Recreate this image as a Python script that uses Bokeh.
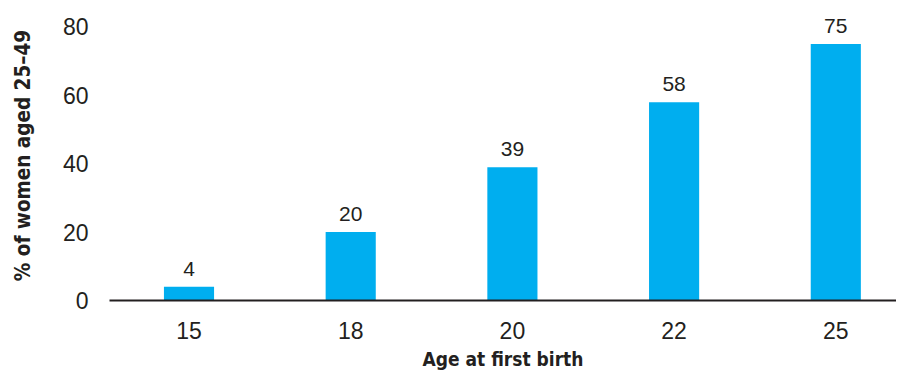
from bokeh.plotting import figure
from bokeh.models import ColumnDataSource, LabelSet, Range1d, FixedTicker
from bokeh.core.properties import value
from bokeh.embed import file_html
from bokeh.resources import INLINE

ages = ["15", "18", "20", "22", "25"]
values = [4, 20, 39, 58, 75]
y_ticks = [0, 20, 40, 60, 80]

x_pos = list(range(len(ages)))
src = ColumnDataSource(dict(x=x_pos, top=values, label=[str(v) for v in values]))

TEXT = "#231F20"
BAR = "#00AEEF"
REG = "Liberation Sans"
COND = "DejaVu Sans Condensed"

p = figure(width=896, height=372, output_backend="svg", toolbar_location=None,
           x_range=Range1d(-0.4917, 4.3754), y_range=Range1d(0, 84.8),
           min_border_left=109, min_border_right=0, min_border_top=10, min_border_bottom=72)
p.outline_line_color = None
p.grid.grid_line_color = None
p.background_fill_color = "white"
p.border_fill_color = "white"

p.vbar(x="x", top="top", width=0.31, bottom=0, source=src, color=BAR, line_color=None)

labels = LabelSet(x="x", y="top", text="label", source=src, text_align="center",
                  text_baseline="alphabetic", y_offset=11, text_font_size="21px",
                  text_font=value(REG), text_color=TEXT)
p.add_layout(labels)

xa = p.xaxis[0]
xa.ticker = FixedTicker(ticks=x_pos)
xa.major_label_overrides = {i: a for i, a in zip(x_pos, ages)}
xa.major_tick_line_color = None
xa.minor_tick_line_color = None
xa.axis_line_color = TEXT
xa.axis_line_width = 2
xa.major_label_text_font = REG
xa.major_label_text_font_size = "23px"
xa.major_label_text_color = TEXT
xa.major_label_standoff = 15
xa.axis_label = "Age at first birth"
xa.axis_label_text_font = COND
xa.axis_label_text_font_style = "bold"
xa.axis_label_text_font_size = "19px"
xa.axis_label_text_color = TEXT
xa.axis_label_standoff = 6

ya = p.yaxis[0]
ya.ticker = FixedTicker(ticks=y_ticks)
ya.axis_line_color = None
ya.major_tick_line_color = None
ya.minor_tick_line_color = None
ya.major_label_text_font = REG
ya.major_label_text_font_size = "23px"
ya.major_label_text_color = TEXT
ya.major_label_standoff = 15
ya.axis_label = "% of women aged 25–49"
ya.axis_label_text_font = COND
ya.axis_label_text_font_style = "bold"
ya.axis_label_text_font_size = "20.5px"
ya.axis_label_text_color = TEXT
ya.axis_label_standoff = 25

open("out.html", "w").write(file_html(p, INLINE))
